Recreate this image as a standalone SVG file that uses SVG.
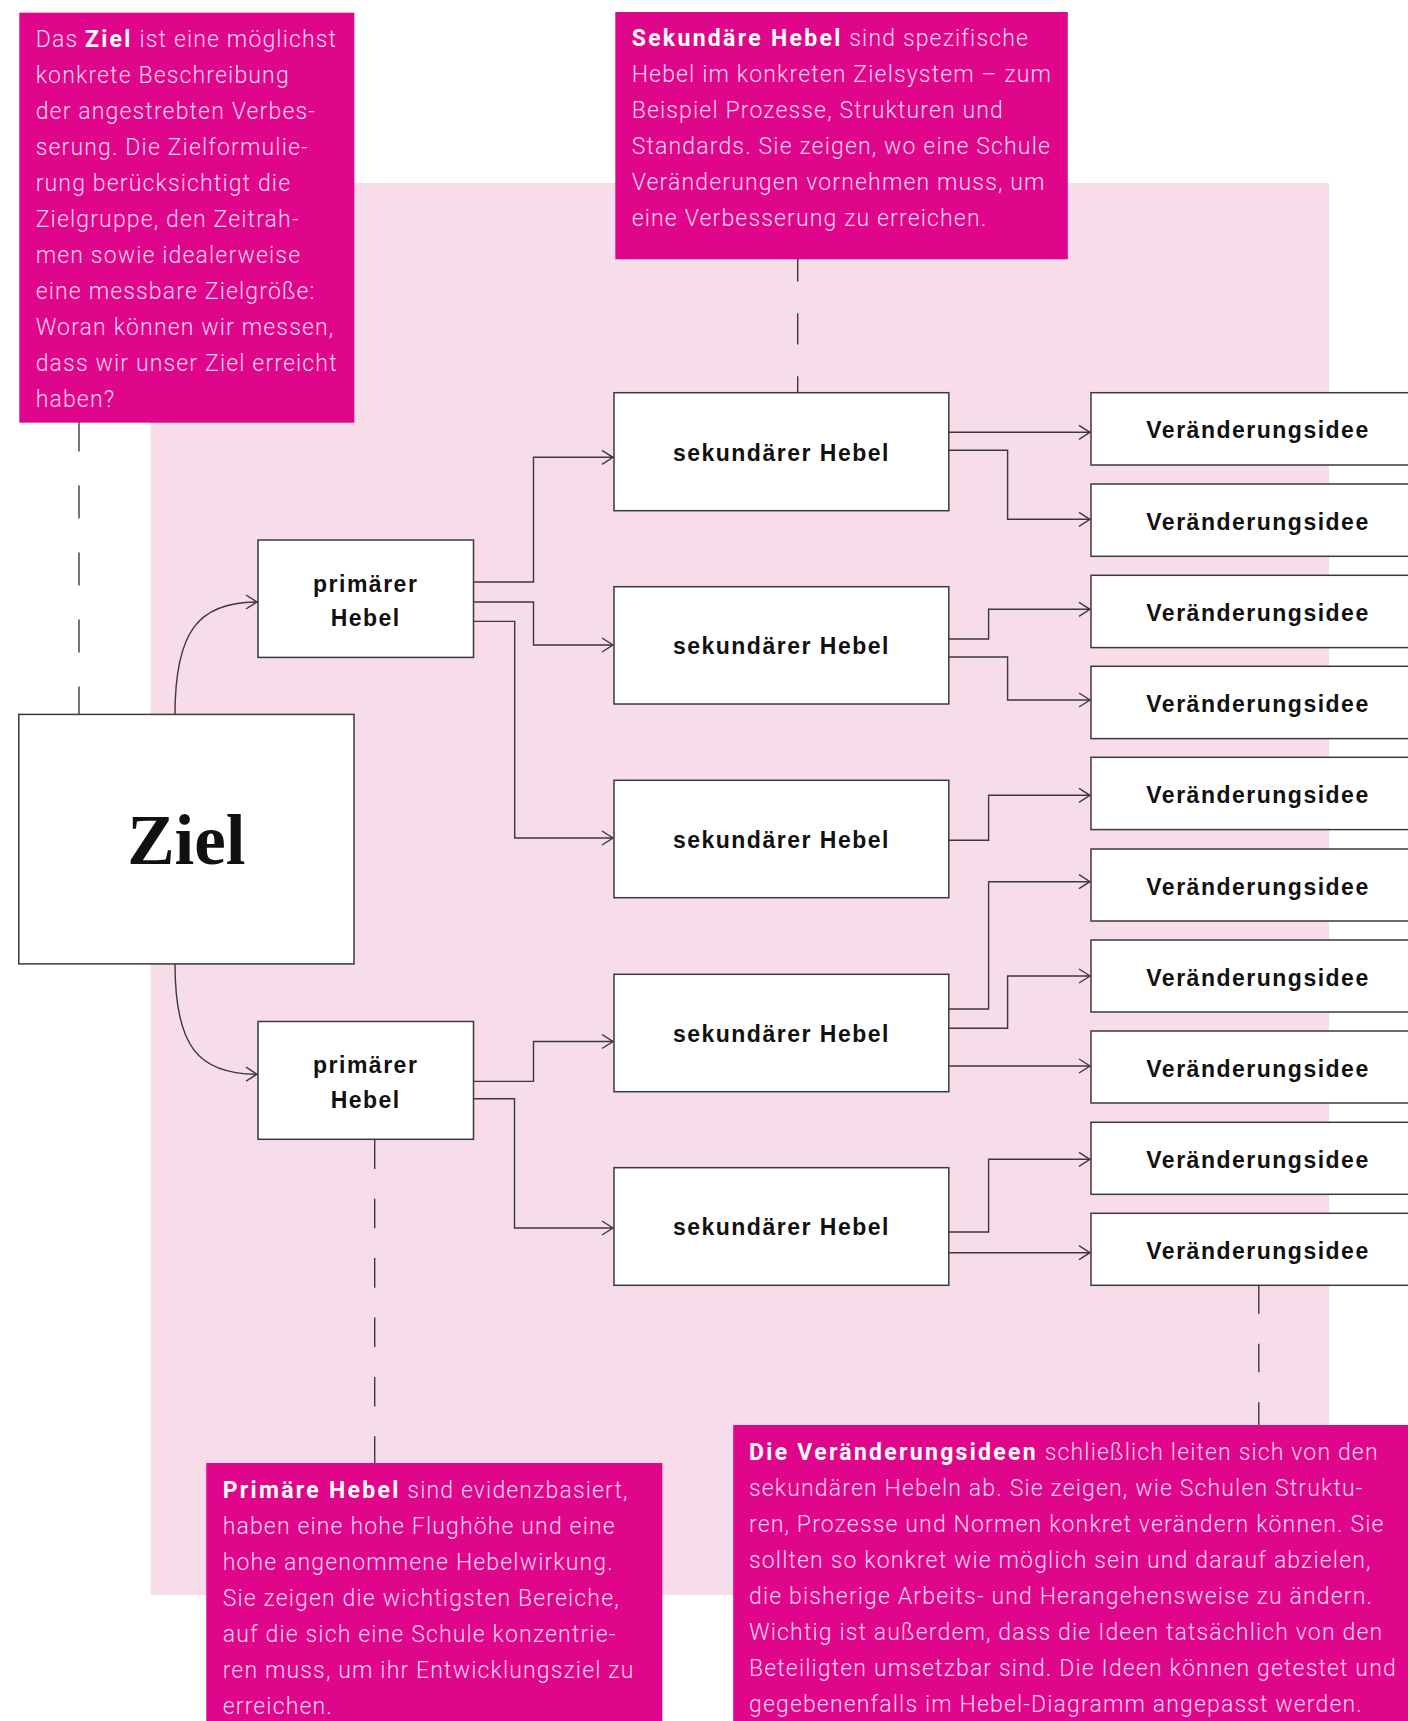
<svg xmlns="http://www.w3.org/2000/svg" width="1408" height="1721" viewBox="0 0 1408 1721">
<defs>
<style>
.bg{fill:#F6DDE9}
.annot{fill:#E0068B}
.box{fill:#fff;stroke:#3a3a3a;stroke-width:1.5}
.con{fill:none;stroke:#3a3a3a;stroke-width:1.4}
.dash{fill:none;stroke:#3a3a3a;stroke-width:1.4}
.at{font-family:Roboto,"Liberation Sans",sans-serif;font-weight:300;font-size:23px;fill:#FBD3EA;letter-spacing:1.15px}
.at .b{font-weight:700;fill:#fff;letter-spacing:2.3px}
.nt{font-family:"Liberation Sans",Arial,sans-serif;font-weight:700;font-size:23px;fill:#111;letter-spacing:1.5px;text-anchor:middle}
.zt{font-family:"Liberation Serif","DejaVu Serif",serif;font-weight:700;font-size:71px;fill:#111;text-anchor:middle}
</style>
<marker id="arr" viewBox="-12 -8 14 16" refX="0" refY="0" markerWidth="14" markerHeight="16" markerUnits="userSpaceOnUse" orient="auto">
<path d="M-11,-7 L0,0 L-11,7" fill="none" stroke="#3a3a3a" stroke-width="1.4"/>
</marker>
</defs>

<rect class="bg" x="150.5" y="183" width="1178.5" height="1412"/>

<g id="dashed-lines">
<path class="dash" d="M79,418.5 V714.4" stroke-dasharray="33 34"/>
<path class="dash" d="M797.7,250.3 V392.7" stroke-dasharray="31.3 31.7"/>
<path class="dash" d="M374.7,1139.3 V1463" stroke-dasharray="29.6 29.8"/>
<path class="dash" d="M1258.8,1285.3 V1425" stroke-dasharray="28.5 30"/>
</g>

<g id="connectors">
<path class="con" d="M175,714.4 C175,632 198,602 257,602" marker-end="url(#arr)"/>
<path class="con" d="M175,963.9 C175,1046 198,1074.2 257,1074.2" marker-end="url(#arr)"/>
<path class="con" d="M473.5,582 H533.5 V457.3 H613" marker-end="url(#arr)"/>
<path class="con" d="M473.5,602 H533.5 V645 H613" marker-end="url(#arr)"/>
<path class="con" d="M473.5,621.4 H514.7 V838 H613" marker-end="url(#arr)"/>
<path class="con" d="M473.5,1081.4 H533.5 V1041.5 H613" marker-end="url(#arr)"/>
<path class="con" d="M473.5,1098.8 H514.5 V1228 H613" marker-end="url(#arr)"/>
<path class="con" d="M949,432.3 H1090" marker-end="url(#arr)"/>
<path class="con" d="M949,450.3 H1007.6 V519.3 H1090" marker-end="url(#arr)"/>
<path class="con" d="M949,639 H988.6 V609.3 H1090" marker-end="url(#arr)"/>
<path class="con" d="M949,657 H1007.6 V700 H1090" marker-end="url(#arr)"/>
<path class="con" d="M949,840.3 H988.6 V795.3 H1090" marker-end="url(#arr)"/>
<path class="con" d="M949,1009 H988.6 V881.7 H1090" marker-end="url(#arr)"/>
<path class="con" d="M949,1028.3 H1007.6 V976 H1090" marker-end="url(#arr)"/>
<path class="con" d="M949,1066 H1090" marker-end="url(#arr)"/>
<path class="con" d="M949,1232 H988.6 V1159.3 H1090" marker-end="url(#arr)"/>
<path class="con" d="M949,1252.7 H1090" marker-end="url(#arr)"/>
</g>

<g id="annot-ziel">
<rect class="annot" x="19.3" y="12.7" width="335" height="410"/>
<text class="at" x="35.7" y="46.7">Das <tspan class="b">Ziel</tspan> ist eine möglichst</text>
<text class="at" x="35.7" y="82.7">konkrete Beschreibung</text>
<text class="at" x="35.7" y="118.7">der angestrebten Verbes-</text>
<text class="at" x="35.7" y="154.7">serung. Die Zielformulie-</text>
<text class="at" x="35.7" y="190.7">rung berücksichtigt die</text>
<text class="at" x="35.7" y="226.7">Zielgruppe, den Zeitrah-</text>
<text class="at" x="35.7" y="262.7">men sowie idealerweise</text>
<text class="at" x="35.7" y="298.7">eine messbare Zielgröße:</text>
<text class="at" x="35.7" y="334.7">Woran können wir messen,</text>
<text class="at" x="35.7" y="370.7">dass wir unser Ziel erreicht</text>
<text class="at" x="35.7" y="406.7">haben?</text>
</g>

<g id="annot-sekundaer">
<rect class="annot" x="615.3" y="12" width="452.5" height="247.3"/>
<text class="at" x="631.7" y="45.7"><tspan class="b">Sekundäre Hebel</tspan> sind spezifische</text>
<text class="at" x="631.7" y="81.7">Hebel im konkreten Zielsystem – zum</text>
<text class="at" x="631.7" y="117.7">Beispiel Prozesse, Strukturen und</text>
<text class="at" x="631.7" y="153.7">Standards. Sie zeigen, wo eine Schule</text>
<text class="at" x="631.7" y="189.7">Veränderungen vornehmen muss, um</text>
<text class="at" x="631.7" y="225.7">eine Verbesserung zu erreichen.</text>
</g>

<g id="ziel">
<rect class="box" x="18.75" y="714.4" width="335.25" height="249.5"/>
<text class="zt" x="186.4" y="864">Ziel</text>
</g>

<g id="primaer-1">
<rect class="box" x="258" y="540" width="215.5" height="117.4"/>
<text class="nt" x="365.7" y="591.6">primärer</text>
<text class="nt" x="365.7" y="626.4">Hebel</text>
</g>
<g id="primaer-2">
<rect class="box" x="258" y="1021.5" width="215.5" height="117.8"/>
<text class="nt" x="365.7" y="1073.3">primärer</text>
<text class="nt" x="365.7" y="1108.4">Hebel</text>
</g>

<g id="sek-1"><rect class="box" x="614" y="392.7" width="334.8" height="118"/><text class="nt" x="781.4" y="460.5">sekundärer Hebel</text></g>
<g id="sek-2"><rect class="box" x="614" y="586.7" width="334.8" height="117.3"/><text class="nt" x="781.4" y="654">sekundärer Hebel</text></g>
<g id="sek-3"><rect class="box" x="614" y="780.3" width="334.8" height="117.4"/><text class="nt" x="781.4" y="847.7">sekundärer Hebel</text></g>
<g id="sek-4"><rect class="box" x="614" y="974.3" width="334.8" height="117.4"/><text class="nt" x="781.4" y="1041.7">sekundärer Hebel</text></g>
<g id="sek-5"><rect class="box" x="614" y="1167.7" width="334.8" height="117.6"/><text class="nt" x="781.4" y="1235.2">sekundärer Hebel</text></g>

<g id="idee-1"><rect class="box" x="1091" y="392.7" width="340" height="72.3"/><text class="nt" x="1258" y="438.3">Veränderungsidee</text></g>
<g id="idee-2"><rect class="box" x="1091" y="484" width="340" height="72.3"/><text class="nt" x="1258" y="529.6">Veränderungsidee</text></g>
<g id="idee-3"><rect class="box" x="1091" y="575.3" width="340" height="72.3"/><text class="nt" x="1258" y="620.9">Veränderungsidee</text></g>
<g id="idee-4"><rect class="box" x="1091" y="666.3" width="340" height="72.3"/><text class="nt" x="1258" y="711.9">Veränderungsidee</text></g>
<g id="idee-5"><rect class="box" x="1091" y="757.3" width="340" height="72.3"/><text class="nt" x="1258" y="802.9">Veränderungsidee</text></g>
<g id="idee-6"><rect class="box" x="1091" y="849" width="340" height="72"/><text class="nt" x="1258" y="894.5">Veränderungsidee</text></g>
<g id="idee-7"><rect class="box" x="1091" y="940" width="340" height="72"/><text class="nt" x="1258" y="985.5">Veränderungsidee</text></g>
<g id="idee-8"><rect class="box" x="1091" y="1031" width="340" height="72"/><text class="nt" x="1258" y="1076.5">Veränderungsidee</text></g>
<g id="idee-9"><rect class="box" x="1091" y="1122.3" width="340" height="72"/><text class="nt" x="1258" y="1167.8">Veränderungsidee</text></g>
<g id="idee-10"><rect class="box" x="1091" y="1213.3" width="340" height="72"/><text class="nt" x="1258" y="1258.8">Veränderungsidee</text></g>

<g id="annot-primaer">
<rect class="annot" x="206.3" y="1463" width="456" height="260"/>
<text class="at" x="222.7" y="1497.8"><tspan class="b">Primäre Hebel</tspan> sind evidenzbasiert,</text>
<text class="at" x="222.7" y="1533.8">haben eine hohe Flughöhe und eine</text>
<text class="at" x="222.7" y="1569.8">hohe angenommene Hebelwirkung.</text>
<text class="at" x="222.7" y="1605.8">Sie zeigen die wichtigsten Bereiche,</text>
<text class="at" x="222.7" y="1641.8">auf die sich eine Schule konzentrie-</text>
<text class="at" x="222.7" y="1677.8">ren muss, um ihr Entwicklungsziel zu</text>
<text class="at" x="222.7" y="1713.8">erreichen.</text>
</g>

<g id="annot-ideen">
<rect class="annot" x="733.2" y="1425" width="680" height="300"/>
<text class="at" x="749" y="1460"><tspan class="b">Die Veränderungsideen</tspan> schließlich leiten sich von den</text>
<text class="at" x="749" y="1496">sekundären Hebeln ab. Sie zeigen, wie Schulen Struktu-</text>
<text class="at" x="749" y="1532">ren, Prozesse und Normen konkret verändern können. Sie</text>
<text class="at" x="749" y="1568">sollten so konkret wie möglich sein und darauf abzielen,</text>
<text class="at" x="749" y="1604">die bisherige Arbeits- und Herangehensweise zu ändern.</text>
<text class="at" x="749" y="1640">Wichtig ist außerdem, dass die Ideen tatsächlich von den</text>
<text class="at" x="749" y="1676">Beteiligten umsetzbar sind. Die Ideen können getestet und</text>
<text class="at" x="749" y="1712">gegebenenfalls im Hebel-Diagramm angepasst werden.</text>
</g>
</svg>
